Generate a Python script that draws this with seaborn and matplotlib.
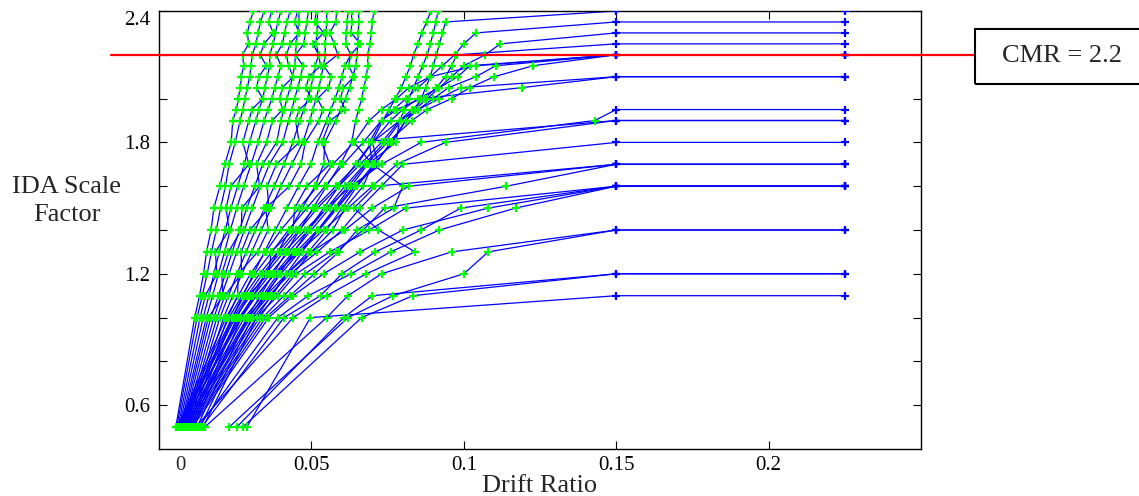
import numpy as np
import pandas as pd
import matplotlib
matplotlib.use("Agg")
import matplotlib.pyplot as plt
import seaborn as sns
from matplotlib.patches import Rectangle

# IDA scale factor levels (same for every record)
sf_levels = [0.5, 1.0, 1.1, 1.2, 1.3, 1.4, 1.5, 1.6, 1.7, 1.8, 1.9, 1.95,
             2.0, 2.05, 2.1, 2.15, 2.2, 2.25, 2.3, 2.35, 2.4]

# records that never collapse: max drift (%) at every level
drift_pct_survive = [
    [0.55, 1.17, 1.33, 1.46, 1.56, 1.71, 1.80, 2.00, 2.16, 2.37, 2.42, 2.54, 2.60, 2.67, 2.70, 2.78, 2.74, 2.94, 2.90, 2.98, 3.10],
    [0.58, 1.25, 1.42, 1.58, 1.72, 1.88, 2.02, 2.18, 2.30, 2.50, 2.66, 2.75, 2.82, 2.90, 2.97, 3.02, 3.06, 3.18, 3.25, 3.33, 3.45],
    [0.62, 1.35, 1.52, 1.90, 1.85, 2.30, 2.20, 2.36, 2.95, 2.75, 2.95, 3.05, 3.40, 3.20, 3.28, 3.52, 3.32, 3.45, 3.75, 3.60, 3.70],
    [0.66, 1.45, 1.64, 1.80, 1.98, 2.17, 2.36, 2.58, 2.80, 2.97, 3.18, 3.28, 3.40, 3.48, 3.55, 3.63, 3.63, 3.75, 3.82, 3.90, 4.00],
    [0.70, 1.55, 1.76, 1.95, 2.15, 2.34, 2.55, 2.78, 3.02, 3.25, 3.45, 3.58, 3.70, 3.80, 3.90, 4.00, 3.85, 4.05, 4.12, 4.20, 4.30],
    [0.74, 1.62, 2.10, 2.06, 2.28, 2.70, 2.72, 3.30, 3.20, 3.53, 3.72, 4.05, 3.96, 4.05, 4.40, 4.25, 4.18, 4.30, 4.60, 4.45, 4.55],
    [0.78, 1.70, 1.95, 2.18, 2.40, 2.64, 2.88, 3.14, 3.40, 3.86, 4.00, 4.10, 4.20, 4.30, 4.38, 4.45, 4.48, 4.50, 4.55, 4.58, 4.60],
    [0.82, 1.80, 2.05, 2.30, 2.55, 2.80, 3.06, 3.33, 3.62, 4.06, 4.25, 4.36, 4.45, 4.55, 4.65, 4.72, 4.48, 4.75, 4.80, 4.85, 4.90],
    [0.86, 1.90, 2.16, 2.70, 2.70, 2.98, 3.60, 3.55, 3.85, 4.60, 4.48, 4.60, 5.00, 4.82, 4.92, 5.30, 5.24, 5.05, 5.40, 5.12, 5.15],
    [0.90, 2.00, 2.28, 2.56, 2.86, 3.16, 3.46, 3.78, 4.10, 4.39, 4.62, 4.75, 4.88, 4.98, 5.06, 5.12, 5.24, 5.15, 5.18, 5.20, 5.20],
    [0.95, 2.12, 2.42, 2.72, 3.04, 3.36, 3.68, 4.00, 4.36, 4.72, 4.95, 5.05, 5.15, 5.25, 5.32, 5.40, 5.45, 5.46, 5.48, 5.50, 5.50],
    [1.00, 2.25, 2.58, 2.60, 3.24, 3.58, 3.50, 4.28, 4.66, 4.80, 5.25, 5.38, 5.20, 5.56, 5.65, 5.40, 5.86, 5.75, 5.60, 5.80, 5.83],
    [1.05, 2.40, 2.75, 3.10, 3.46, 3.82, 4.20, 4.58, 4.98, 5.21, 5.50, 5.64, 5.78, 5.90, 6.00, 6.10, 6.29, 6.12, 6.15, 6.18, 6.20],
    [1.10, 2.55, 2.92, 3.60, 3.68, 4.40, 4.45, 4.85, 5.60, 5.34, 5.62, 6.10, 5.95, 6.05, 6.40, 6.22, 6.29, 6.60, 6.31, 6.32, 6.32],
    [1.15, 2.70, 3.10, 3.50, 3.90, 4.30, 4.70, 5.12, 5.40, 5.44, 5.80, 5.96, 6.12, 6.25, 6.36, 6.45, 6.50, 6.52, 6.54, 6.55, 6.55],
    [1.25, 2.90, 3.32, 3.75, 4.18, 4.62, 5.05, 5.50, 5.95, 6.32, 6.45, 6.55, 6.65, 6.72, 6.80, 6.85, 6.85, 6.92, 6.97, 7.00, 7.05],
    [1.35, 3.05, 3.50, 3.96, 4.42, 4.90, 5.40, 5.90, 6.45, 6.98, 7.35, 7.55, 7.75, 7.95, 8.10, 8.25, 8.35, 8.50, 8.62, 8.78, 8.92],
    [1.45, 3.20, 3.68, 4.18, 4.70, 5.22, 5.76, 6.30, 6.85, 7.77, 7.90, 8.05, 8.20, 8.35, 8.50, 8.65, 8.80, 8.90, 9.00, 9.08, 9.16],
]

# records that collapse: drift (%) at the levels before collapse
drift_pct_collapse = [
    [2.88, 4.97],
    [2.75, 6.65, 8.33],
    [2.55, 6.06, 7.00],
    [2.30, 6.20, 7.68, 10.0, 10.8],
    [1.50, 5.50, 6.20, 7.30, 9.60],
    [1.40, 4.10, 5.30, 6.00, 7.10, 8.60, 9.90],
    [1.10, 3.60, 4.40, 5.40, 6.60, 8.00, 10.8],
    [1.30, 3.90, 4.90, 6.30, 7.60, 9.20, 11.7],
    [0.90, 3.20, 3.90, 4.50, 5.60, 6.90, 8.10],
    [1.00, 3.40, 4.10, 4.80, 5.80, 6.70, 7.40, 11.4],
    [0.80, 2.90, 3.50, 4.20, 5.00, 6.10, 7.00, 8.20],
    [1.20, 4.40, 5.50, 6.80, 8.40, 7.20, 6.40, 7.10],
    [0.85, 3.00, 3.60, 4.30, 5.20, 6.00, 6.60, 7.30, 8.00],
    [0.75, 2.60, 3.20, 3.80, 4.60, 5.40, 6.20, 7.00, 7.80, 9.40],
    [1.05, 3.50, 4.30, 5.10, 5.90, 6.50, 7.70, 8.00, 7.00, 6.40],
    [0.70, 2.50, 3.00, 3.50, 4.10, 4.80, 5.50, 6.30, 7.30, 8.60, 14.3],
    [0.65, 2.40, 2.80, 3.30, 3.90, 4.50, 5.10, 5.80, 6.50, 7.00, 7.90, 8.50, 9.20, 9.90],
    [0.95, 3.30, 3.80, 4.40, 5.00, 5.70, 6.10, 6.70, 7.00, 6.90, 7.30, 7.80, 8.60, 11.9],
    [0.60, 2.20, 2.60, 3.00, 3.50, 4.00, 4.60, 5.20, 5.70, 6.40, 6.90, 7.30, 7.80, 8.20, 8.90, 10.4],
    [0.90, 3.10, 3.70, 4.20, 4.90, 5.50, 6.00, 6.50, 7.10, 7.60, 8.10, 8.50, 9.00, 9.50, 10.4, 11.05],
    [0.72, 2.70, 3.20, 3.80, 4.40, 5.00, 5.60, 6.20, 6.80, 7.50, 8.30, 8.80, 9.60, 10.2, 11.0, 12.27],
    [0.80, 2.80, 3.40, 3.90, 4.50, 5.20, 5.80, 6.40, 7.20, 7.00, 7.60, 8.00, 8.50, 9.20, 9.80, 10.2],
    [0.68, 2.45, 2.90, 3.40, 4.00, 4.60, 5.20, 5.90, 6.60, 7.30, 7.90, 8.30, 8.70, 9.10, 9.40, 9.60, 9.77],
    [0.76, 2.65, 3.10, 3.65, 4.25, 4.90, 5.50, 6.10, 6.75, 7.40, 7.95, 8.40, 8.80, 9.20, 9.60, 10.0, 10.7, 11.2],
    [0.63, 2.30, 2.72, 3.15, 3.70, 4.25, 4.85, 5.45, 6.05, 6.70, 7.30, 7.70, 8.10, 8.50, 8.90, 9.30, 9.70, 10.0, 10.4],
    [0.85, 2.95, 3.45, 4.00, 4.60, 5.25, 5.85, 6.45, 7.05, 7.65, 8.10, 8.40, 8.60, 8.75, 8.90, 9.00, 9.10, 9.20, 9.30, 9.40],
]
collapse_sf = [1.1, 1.2, 1.2, 1.4, 1.4, 1.6, 1.6, 1.6, 1.6, 1.7, 1.7, 1.7, 1.8, 1.9, 1.9,
               1.95, 2.1, 2.1, 2.2, 2.2, 2.2, 2.2, 2.25, 2.3, 2.35, 2.4]
collapse_drift = 0.15      # collapse plotted at this drift
collapse_end_drift = 0.225
CMR = 2.2

rows = []
for i, d in enumerate(drift_pct_survive):
    for j, v in enumerate(d):
        rows.append(dict(rec=i, step=j, drift=v / 100, sf=sf_levels[j], kind="ida"))
for k, (d, sfc) in enumerate(zip(drift_pct_collapse, collapse_sf)):
    rid = 100 + k
    for j, v in enumerate(d):
        rows.append(dict(rec=rid, step=j, drift=v / 100, sf=sf_levels[j], kind="ida"))
    n = len(d)
    rows.append(dict(rec=rid, step=n, drift=collapse_drift, sf=sfc, kind="collapse"))
    rows.append(dict(rec=rid, step=n + 1, drift=collapse_end_drift, sf=sfc, kind="collapse"))
df = pd.DataFrame(rows)

sns.set_style("ticks")
plt.rcParams["font.family"] = ["Liberation Serif", "DejaVu Serif"]

fig = plt.figure(figsize=(11.39, 4.96), dpi=100)
ax = fig.add_axes([159 / 1139, 47 / 496, 762 / 1139, 438 / 496])

sns.lineplot(data=df, x="drift", y="sf", units="rec", estimator=None, sort=False,
             color="#0000ff", linewidth=0.9, ax=ax)
sns.scatterplot(data=df[df.kind == "ida"], x="drift", y="sf", marker="+", s=36,
                color="#00ff00", linewidth=1.6, ax=ax, zorder=3)
sns.scatterplot(data=df[df.kind == "collapse"], x="drift", y="sf", marker="+", s=36,
                color="#0000ff", linewidth=1.6, ax=ax, zorder=3)

ax.set_xlim(0, 0.25)
ax.set_ylim(0.4, 2.4)
ax.set_xticks([0.05, 0.1, 0.15, 0.2])
ax.set_xticklabels(["0.05", "0.1", "0.15", "0.2"])
ax.set_yticks([0.6, 1.2, 1.8, 2.4])
ax.set_yticklabels(["0.6", "1.2", "1.8", "2.4"])
ax.set_yticks([0.8, 1.0, 1.4, 1.6, 2.0, 2.2], minor=True)
ax.tick_params(which="both", direction="in", length=6, width=0.8, top=True, right=True,
               labelsize=15, colors="black")
ax.tick_params(axis="x", pad=5)
ax.tick_params(axis="y", pad=6)
ax.get_yticklabels()[-1].set_va("top")
for s in ax.spines.values():
    s.set_linewidth(1.0)
    s.set_color("black")
ax.set_xlabel("")
ax.set_ylabel("")
ax.annotate("0", xy=(0.007, 0), xycoords=("data", "axes fraction"), xytext=(0, -5),
            textcoords="offset points", ha="center", va="top", fontsize=15)

fig.text(540 / 1139, 4 / 496, "Drift Ratio", ha="center", va="baseline", fontsize=19)
fig.text(67 / 1139, 1 - 201 / 496, "IDA Scale\nFactor", ha="center", va="center",
         fontsize=19, linespacing=1.35)

# CMR line and label box
ax.plot([-0.0624, 1.071], [CMR, CMR], transform=ax.get_yaxis_transform(),
        color="#ff0000", lw=1.6, clip_on=False, zorder=4)
fig.add_artist(Rectangle((975 / 1139, 1 - 84 / 496), 0.2, 55 / 496, transform=fig.transFigure,
                         fill=False, ec="black", lw=1.5))
fig.text(1062 / 1139, 1 - 56 / 496, f"CMR = {CMR}", ha="center", va="center", fontsize=19)

fig.savefig("out.png", dpi=100)
